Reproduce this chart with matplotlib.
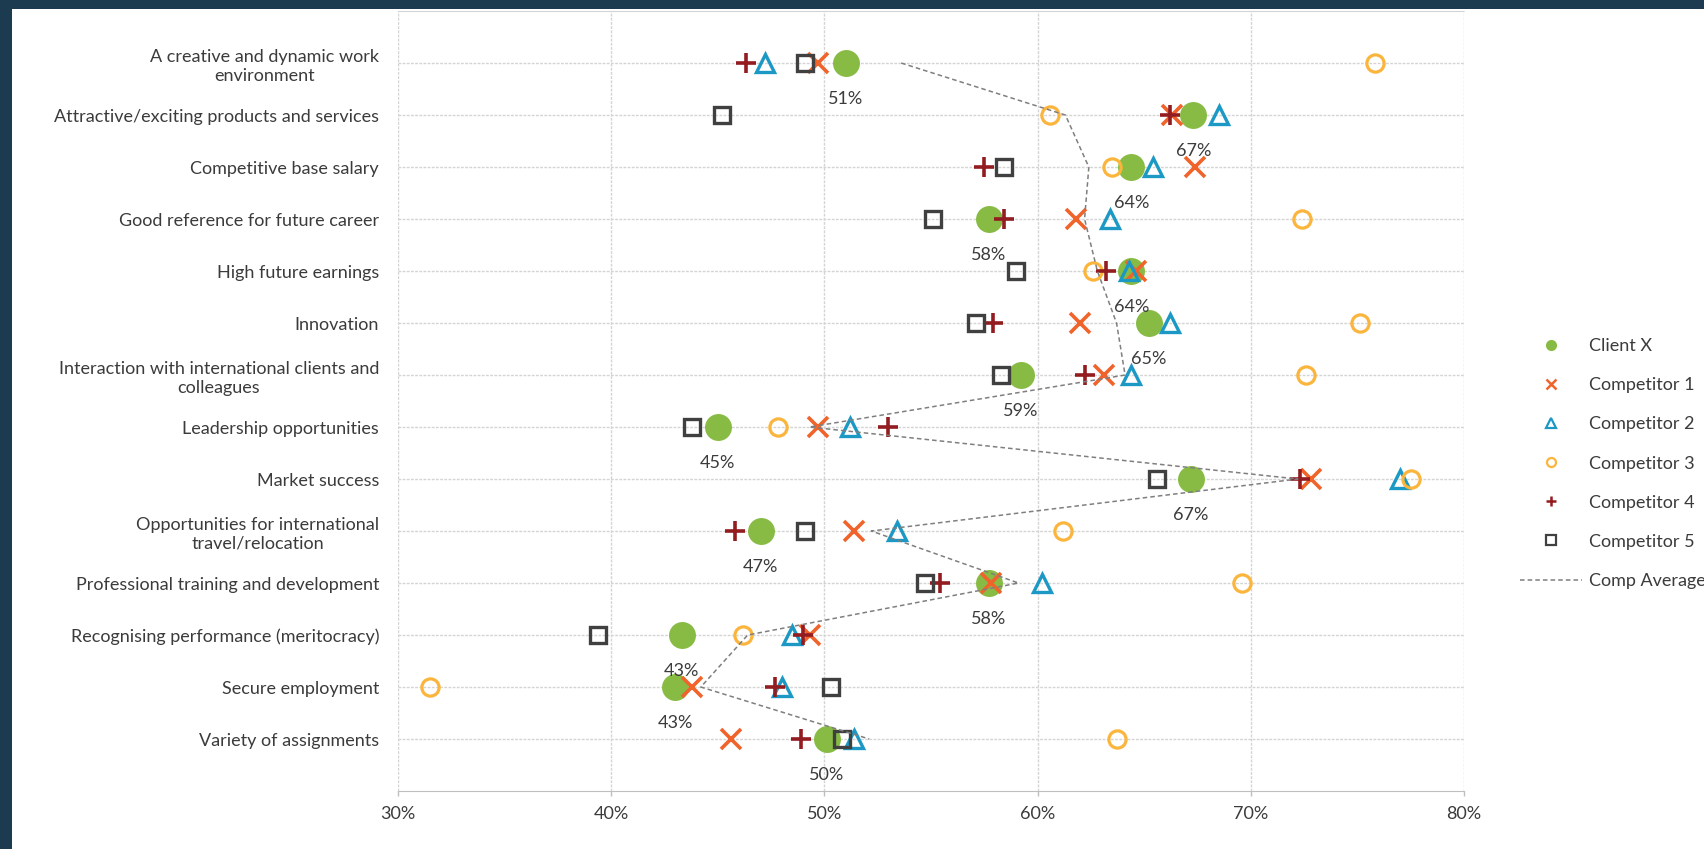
import numpy as np
import matplotlib
matplotlib.use("Agg")
import matplotlib.pyplot as plt
from matplotlib.lines import Line2D
from matplotlib.patches import Rectangle
from matplotlib.ticker import PercentFormatter

plt.rcParams['font.family'] = ['Lato', 'DejaVu Sans']

categories = [
    "A creative and dynamic work\nenvironment",
    "Attractive/exciting products and services",
    "Competitive base salary",
    "Good reference for future career",
    "High future earnings",
    "Innovation",
    "Interaction with international clients and\ncolleagues",
    "Leadership opportunities",
    "Market success",
    "Opportunities for international\ntravel/relocation",
    "Professional training and development",
    "Recognising performance (meritocracy)",
    "Secure employment",
    "Variety of assignments",
]

# values in %
client_x = [51.0, 67.3, 64.4, 57.7, 64.4, 65.2, 59.2, 45.0, 67.2, 47.0, 57.7, 43.3, 43.0, 50.1]
comp1 = [49.7, 66.3, 67.4, 61.8, 64.6, 62.0, 63.1, 49.7, 72.8, 51.4, 57.8, 49.3, 43.8, 45.6]
comp2 = [47.2, 68.5, 65.4, 63.4, 64.3, 66.2, 64.4, 51.2, 77.0, 53.4, 60.2, 48.5, 48.0, 51.4]
comp3 = [75.8, 60.6, 63.5, 72.4, 62.6, 75.1, 72.6, 47.8, 77.5, 61.2, 69.6, 46.2, 31.5, 63.7]
comp4 = [46.3, 66.2, 57.5, 58.4, 63.2, 57.9, 62.2, 53.0, 72.3, 45.8, 55.4, 49.0, 47.7, 48.9]
comp5 = [49.1, 45.2, 58.4, 55.1, 59.0, 57.1, 58.3, 43.8, 65.6, 49.1, 54.7, 39.4, 50.3, 50.8]
comp_avg = [53.6, 61.3, 62.4, 62.2, 62.8, 63.7, 64.1, 49.3, 72.2, 52.2, 59.1, 46.4, 44.2, 52.1]

series_names = ["Client X", "Competitor 1", "Competitor 2", "Competitor 3",
                "Competitor 4", "Competitor 5"]

TXT = '#3b3b3b'
FS = 13
GREEN, ORANGE, BLUE = '#88bb44', '#f0642c', '#1b98c4'
YELLOW, DRED, DGREY = '#fbb53c', '#921c20', '#404040'
AVG_C = '#7f7f7f'
AVG_LS = (0, (3, 2))

styles = [
    dict(marker='o', ms=19.4, color=GREEN, mec='none'),
    dict(marker='x', ms=14, mew=2.6, color=ORANGE),
    dict(marker='^', ms=12.5, mew=2.4, mfc='none', mec=BLUE),
    dict(marker='o', ms=12.4, mew=2.3, mfc='none', mec=YELLOW),
    dict(marker='+', ms=14.5, mew=2.6, color=DRED),
    dict(marker='s', ms=11.7, mew=2.4, mfc='none', mec=DGREY),
]
legend_styles = [
    dict(marker='o', ms=8, color=GREEN, mec='none'),
    dict(marker='x', ms=7, mew=1.8, color=ORANGE),
    dict(marker='^', ms=6.5, mew=1.6, mfc='none', mec=BLUE),
    dict(marker='o', ms=6.5, mew=1.6, mfc='none', mec=YELLOW),
    dict(marker='+', ms=7.5, mew=1.8, color=DRED),
    dict(marker='s', ms=6.5, mew=1.6, mfc='none', mec=DGREY),
]

fig = plt.figure(figsize=(17.04, 8.49), dpi=100, facecolor='#1c3a50')
fig.add_artist(Rectangle((12 / 1704, 0), 1, 1 - 9 / 849, transform=fig.transFigure,
                         facecolor='white', edgecolor='none', zorder=0))
ax = fig.add_axes([0.2336, 0.0683, 0.6256, 0.9187])
ax.set_facecolor('white')

ypos = np.arange(len(categories))
all_series = [client_x, comp1, comp2, comp3, comp4, comp5]
for vals, st in zip(all_series, styles):
    ax.plot(vals, ypos, ls='none', zorder=3, **st)
ax.plot(comp_avg, ypos, ls=AVG_LS, color=AVG_C, lw=1.1, zorder=6)

for x, y in zip(client_x, ypos):
    ax.annotate(f"{x:.0f}%", (x, y), xytext=(0, -26), textcoords='offset points',
                ha='center', va='center', fontsize=FS, color=TXT, zorder=7)

ax.set_xlim(30, 80)
ax.set_ylim(14, -1)
ax.set_xticks(range(30, 81, 10))
ax.xaxis.set_major_formatter(PercentFormatter(decimals=0))
ax.set_yticks(ypos, categories)
for lbl in ax.get_yticklabels():
    lbl.set_multialignment('center')
    lbl.set_linespacing(1.25)

ax.tick_params(axis='y', length=0, pad=13.7, labelsize=FS, labelcolor=TXT)
ax.tick_params(axis='x', length=3.6, width=1, color='#bfbfbf', pad=7,
               labelsize=FS, labelcolor=TXT)
ax.grid(True, color='#d4d4d4', lw=1.0, ls=(0, (2, 1)), zorder=0)
ax.set_axisbelow(True)
for s in ['left', 'right']:
    ax.spines[s].set_visible(False)
ax.spines['bottom'].set_color('#bfbfbf')
ax.spines['top'].set_color('#d4d4d4')
ax.spines['top'].set_linestyle((0, (2, 1)))

handles = [Line2D([], [], ls='none', **st) for st in legend_styles]
handles.append(Line2D([], [], ls=AVG_LS, color=AVG_C, lw=1.1))
fig.legend(handles, series_names + ["Comp Average"], loc='center left',
           bbox_to_anchor=(0.892, 0.454), frameon=False, fontsize=FS,
           handlelength=3.43, handletextpad=0.39, labelspacing=1.28,
           borderpad=0, borderaxespad=0, numpoints=1, labelcolor=TXT)

fig.savefig('out.png', dpi=100, facecolor=fig.get_facecolor())
